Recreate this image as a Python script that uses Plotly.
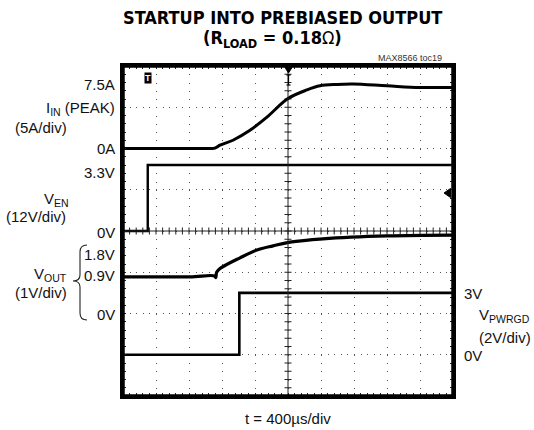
import numpy as np
import plotly.graph_objects as go

# ---------------- data (read from the scope shot) ----------------
# time axis: 400 us/div, 10 divisions
t_div_us = 400
n_xdiv = 10
n_ydiv = 8

# I_IN (A)
t_iin = [0, 933, 1115, 1176, 1333, 1539, 1745, 2000, 2230, 2388, 2594, 2788, 3200, 3600, 4000]
i_in = [0, 0, 0.05, 0.4, 1.0, 2.2, 3.8, 6.05, 7.1, 7.6, 7.77, 7.82, 7.6, 7.4, 7.4]

# V_EN (V)
t_en = [0, 300, 300, 4000]
v_en = [0, 0, 3.3, 3.3]

# V_OUT (V)
t_out = [0, 812, 1110, 1125, 1135, 1176, 1418, 1624, 1818, 2024, 2424, 3200, 4000]
v_out = [0.89, 0.89, 0.91, 0.87, 1.0, 1.09, 1.35, 1.54, 1.64, 1.73, 1.81, 1.88, 1.9]

# V_PWRGD (V)
t_pg = [0, 1410, 1410, 4000]
v_pg = [0, 0, 3.0, 3.0]

# channel settings: (offset in div from bottom, units per div on screen)
ch_iin = (6.0, 5.0)
ch_en = (4.0, 3.3 / 1.6)
ch_out = (2.0, 1.0)
ch_pg = (1.0, 2.0)


def to_div(vals, ch):
    off, sc = ch
    return [off + v / sc for v in vals]


# ---------------- layout helpers (pixel -> paper) ----------------
L, R, T, B = 123, 453, 66, 396
W, H = 534, 430


def px(x):
    return (x - L) / (R - L)


def py(y):
    return (B - y) / (B - T)


FONT = "Liberation Sans, Arial, Helvetica, sans-serif"
NARROW = "DejaVu Sans Condensed, Liberation Sans Narrow, Arial Narrow, sans-serif"

fig = go.Figure()

# center crosshair ticks
fig.add_trace(go.Scatter(
    x=np.arange(0, t_div_us * n_xdiv + 1, t_div_us / 5), y=[n_ydiv / 2] * (5 * n_xdiv + 1),
    mode="markers", hoverinfo="skip", showlegend=False,
    marker=dict(symbol="line-ns", size=5, line=dict(width=1, color="#222"))))
fig.add_trace(go.Scatter(
    x=[t_div_us * n_xdiv / 2] * (5 * n_ydiv + 1), y=np.arange(0, n_ydiv + 0.001, 0.2),
    mode="markers", hoverinfo="skip", showlegend=False,
    marker=dict(symbol="line-ew", size=5, line=dict(width=1, color="#222"))))

for tt, vv, ch, shp, w in [(t_iin, i_in, ch_iin, "spline", 3.0),
                           (t_en, v_en, ch_en, "linear", 2.4),
                           (t_out, v_out, ch_out, "spline", 3.2),
                           (t_pg, v_pg, ch_pg, "linear", 2.6)]:
    fig.add_trace(go.Scatter(x=tt, y=to_div(vv, ch), mode="lines",
                             line=dict(color="black", width=w, shape=shp),
                             hoverinfo="skip", showlegend=False))

fig.update_xaxes(range=[0, t_div_us * n_xdiv], dtick=t_div_us, showgrid=True,
                 gridcolor="#555", gridwidth=1, griddash="1px,7.25px",
                 zeroline=False, showticklabels=False,
                 showline=True, linecolor="black", linewidth=3,
                 ticks="inside", ticklen=3, tickcolor="#222", mirror="ticks",
                 minor=dict(dtick=t_div_us / 5, ticks="inside", ticklen=3,
                            tickcolor="#222", showgrid=False))
fig.update_yaxes(range=[0, n_ydiv], dtick=1, showgrid=True,
                 gridcolor="#555", gridwidth=1, griddash="1px,5.6px",
                 zeroline=False, showticklabels=False,
                 showline=True, linecolor="black", linewidth=3,
                 ticks="inside", ticklen=3, tickcolor="#222", mirror="ticks",
                 minor=dict(dtick=0.2, ticks="inside", ticklen=3,
                            tickcolor="#222", showgrid=False))

shapes = [
    dict(type="line", xref="x", yref="paper", x0=t_div_us * n_xdiv / 2, x1=t_div_us * n_xdiv / 2,
         y0=0, y1=1, line=dict(color="#222", width=1)),
    dict(type="line", xref="paper", yref="y", x0=0, x1=1, y0=n_ydiv / 2, y1=n_ydiv / 2,
         line=dict(color="#222", width=1)),
    dict(type="rect", xref="paper", yref="paper", x0=0, x1=1, y0=0, y1=1,
         line=dict(color="black", width=3.5), fillcolor="rgba(0,0,0,0)", layer="above"),
]


def path(points, close=True):
    s = "M " + " L ".join(f"{px(a):.5f},{py(b):.5f}" for a, b in points)
    return s + (" Z" if close else "")


# trigger position marker (top centre)
shapes.append(dict(type="path", xref="paper", yref="paper",
                   path=path([(285, 67.5), (292, 67.5), (288.5, 73)]),
                   fillcolor="black", line=dict(color="black", width=1)))
for seg in [[(288.5, 75), (288.5, 85)], [(286.5, 75), (290.5, 75)], [(286.5, 85), (290.5, 85)]]:
    shapes.append(dict(type="path", xref="paper", yref="paper", path=path(seg, close=False),
                       line=dict(color="black", width=1.2)))
# trigger level marker (right edge)
shapes.append(dict(type="path", xref="paper", yref="paper",
                   path=path([(450.5, 188.5), (450.5, 197.5), (444, 193)]),
                   fillcolor="black", line=dict(color="black", width=1)))

# V_OUT brace
bx, bt, bm, bb = 80, 245, 281, 320
brace = (f"M {px(bx + 7):.5f},{py(bt):.5f} "
         f"Q {px(bx):.5f},{py(bt):.5f} {px(bx):.5f},{py(bt + 7):.5f} "
         f"L {px(bx):.5f},{py(bm - 6):.5f} "
         f"Q {px(bx):.5f},{py(bm):.5f} {px(bx - 7):.5f},{py(bm):.5f} "
         f"Q {px(bx):.5f},{py(bm):.5f} {px(bx):.5f},{py(bm + 6):.5f} "
         f"L {px(bx):.5f},{py(bb - 7):.5f} "
         f"Q {px(bx):.5f},{py(bb):.5f} {px(bx + 7):.5f},{py(bb):.5f}")
shapes.append(dict(type="path", xref="paper", yref="paper", path=brace,
                   line=dict(color="#222", width=1.1)))

fig.update_layout(shapes=shapes)

ann = []


def add(text, x, y, xa="right", size=15, family=FONT, color="#111"):
    ann.append(dict(text=text, x=px(x), y=py(y), xref="paper", yref="paper",
                    xanchor=xa, yanchor="middle", showarrow=False,
                    font=dict(size=size, family=family, color=color)))


add("<b>STARTUP INTO PREBIASED OUTPUT</b>", 282, 17, xa="center", size=18, family=NARROW, color="black")
add("<b>(R<sub>LOAD</sub> = 0.18</b>Ω<b>)</b>", 272, 39, xa="center", size=18, family=NARROW, color="black")
add("MAX8566 toc19", 444, 58, size=9, family=FONT, color="#333")

add("7.5A", 117, 84)
add("I<sub>IN</sub> (PEAK)", 117, 108)
add("(5A/div)", 40.5, 127, xa="center")
add("0A", 117, 148.5)
add("3.3V", 117, 172)
add("V<sub>EN</sub>", 56, 199, xa="center")
add("(12V/div)", 36.5, 217, xa="center")
add("0V", 117, 232)
add("1.8V", 117, 254)
add("0.9V", 117, 275)
add("V<sub>OUT</sub>", 50, 274, xa="center")
add("(1V/div)", 40.5, 292, xa="center")
add("0V", 117, 314)

add("3V", 462, 293, xa="left")
add("V<sub>PWRGD</sub>", 477, 315, xa="left")
add("(2V/div)", 477, 337, xa="left")
add("0V", 462, 355, xa="left")

add("t = 400µs/div", 288, 418, xa="center")

# trigger "T" badge
ann.append(dict(text="<b>T</b>", x=px(148), y=py(78), xref="paper", yref="paper",
                xanchor="center", yanchor="middle", showarrow=False,
                font=dict(size=9, family=FONT, color="white"),
                bgcolor="black", borderpad=0))

fig.update_layout(annotations=ann, width=W, height=H, autosize=False,
                  margin=dict(l=L, r=W - R, t=T, b=H - B, pad=0),
                  paper_bgcolor="white", plot_bgcolor="white", showlegend=False)

fig.write_html("out.html", config={"displayModeBar": False},
               post_script="document.body.style.margin='0';")
